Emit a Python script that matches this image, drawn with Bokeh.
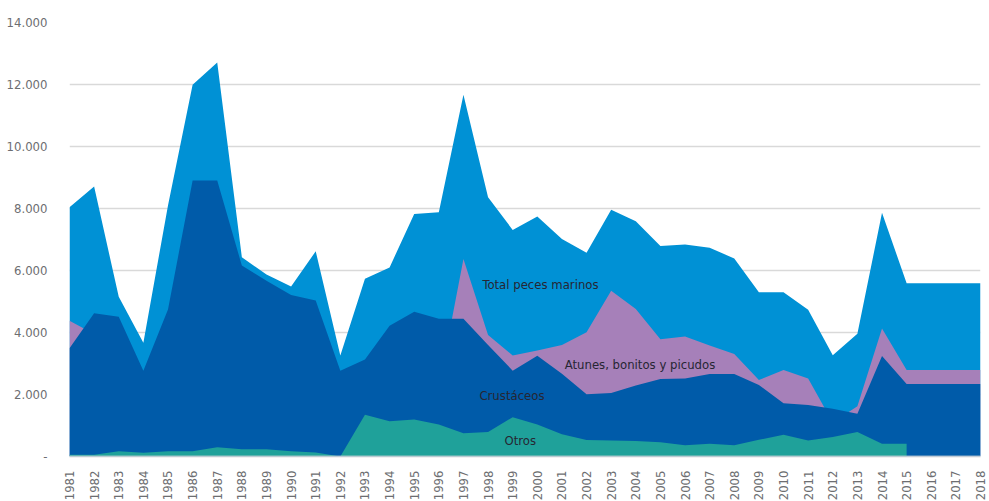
import math
from bokeh.plotting import figure
from bokeh.models import Range1d, FixedTicker, Label, ColumnDataSource
from bokeh.embed import file_html
from bokeh.resources import INLINE

years = list(range(1981, 2019))

total_peces = [8040, 8710, 5150, 3670, 8100, 11990, 12710, 6430, 5870, 5480,
               6620, 3260, 5730, 6100, 7820, 7880, 11670, 8360, 7310, 7740,
               7020, 6570, 7960, 7590, 6790, 6840, 6730, 6390, 5300, 5300,
               4730, 3270, 3960, 7860, 5590, 5590, 5590, 5590]

atunes = [4380, 3950, 2600, 1800, 2000, 2500, 2600, 2300, 2100, 2000,
          1900, 1500, 1700, 2000, 2100, 2230, 6370, 3920, 3260, 3420,
          3600, 4010, 5350, 4760, 3780, 3870, 3580, 3310, 2470, 2790,
          2520, 1100, 1620, 4130, 2790, 2790, 2790, 2790]

crustaceos = [3490, 4620, 4510, 2770, 4740, 8900, 8900, 6160, 5670, 5210,
              5030, 2770, 3130, 4220, 4670, 4440, 4440, 3600, 2770, 3250,
              2670, 2010, 2050, 2290, 2500, 2520, 2660, 2660, 2310, 1720,
              1660, 1540, 1380, 3240, 2340, 2340, 2340, 2340]

# no value for "Otros" after 2015
otros = [60, 60, 170, 120, 170, 170, 300, 230, 230, 170,
         130, 0, 1350, 1140, 1190, 1030, 750, 790, 1270, 1030,
         720, 530, 520, 500, 460, 360, 410, 360, 540, 700,
         520, 630, 790, 410, 410, None, None, None]

ytick_values = [0, 2000, 4000, 6000, 8000, 10000, 12000, 14000]
ytick_labels = ["-", "2.000", "4.000", "6.000", "8.000", "10.000", "12.000", "14.000"]

series_names = ["Total peces marinos", "Atunes, bonitos y picudos", "Crustáceos", "Otros"]
colors = ["#0091d5", "#a680b9", "#005ba9", "#1fa19a"]

FONT = "DejaVu Sans Condensed, Liberation Sans Narrow, Roboto Condensed, Roboto"

src = ColumnDataSource(dict(year=years, total=total_peces, atunes=atunes,
                            crus=crustaceos, zero=[0] * len(years)))
ot_years = [y for y, v in zip(years, otros) if v is not None]
ot_vals = [v for v in otros if v is not None]
src_ot = ColumnDataSource(dict(year=ot_years, otros=ot_vals, zero=[0] * len(ot_years)))

p = figure(frame_width=911, frame_height=434, output_backend="svg", toolbar_location=None,
           x_range=Range1d(1981, 2018), y_range=Range1d(0, 14000),
           min_border_left=69, min_border_right=9, min_border_top=22,
           min_border_bottom=40)
p.outline_line_color = None
p.background_fill_color = "white"
p.border_fill_color = "white"

for col, c in zip(["total", "atunes", "crus"], colors[:3]):
    p.varea(x="year", y1="zero", y2=col, source=src, fill_color=c, fill_alpha=1.0)
p.varea(x="year", y1="zero", y2="otros", source=src_ot, fill_color=colors[3], fill_alpha=1.0)

# axes
p.xgrid.grid_line_color = None
p.ygrid.grid_line_color = "#d9d9d9"
p.ygrid.grid_line_width = 1.5
p.ygrid.ticker = FixedTicker(ticks=ytick_values)

p.yaxis.ticker = FixedTicker(ticks=ytick_values)
p.yaxis.major_label_overrides = {v: l for v, l in zip(ytick_values, ytick_labels)}
p.yaxis.axis_line_color = None
p.yaxis.major_tick_line_color = None
p.yaxis.minor_tick_line_color = None
p.yaxis.major_tick_out = 0
p.yaxis.major_tick_in = 0
p.yaxis.minor_tick_out = 0
p.yaxis.major_label_standoff = 22
p.yaxis.major_label_text_font = FONT
p.yaxis.major_label_text_font_size = "13px"
p.yaxis.major_label_text_color = "#6d6e71"

p.xaxis.ticker = FixedTicker(ticks=years)
p.xaxis.major_label_overrides = {y: str(y) for y in years}
p.xaxis.major_label_orientation = math.pi / 2
p.xaxis.axis_line_color = "#d9d9d9"
p.xaxis.axis_line_alpha = 0.7
p.xaxis.axis_line_width = 2
p.xaxis.major_tick_line_color = None
p.xaxis.minor_tick_line_color = None
p.xaxis.major_tick_out = 0
p.xaxis.major_tick_in = 0
p.xaxis.minor_tick_out = 0
p.xaxis.major_label_standoff = 14
p.xaxis.major_label_text_font = FONT
p.xaxis.major_label_text_font_size = "13px"
p.xaxis.major_label_text_color = "#6d6e71"

label_pos = [(2000.13, 5545), (2004.17, 2956), (1998.97, 1966), (1999.31, 516)]
for name, (lx, ly) in zip(series_names, label_pos):
    p.add_layout(Label(x=lx, y=ly, text=name, text_align="center",
                       text_baseline="middle", text_font=FONT,
                       text_font_size="13px", text_color="#262633"))

open("out.html", "w").write(file_html(p, INLINE))
